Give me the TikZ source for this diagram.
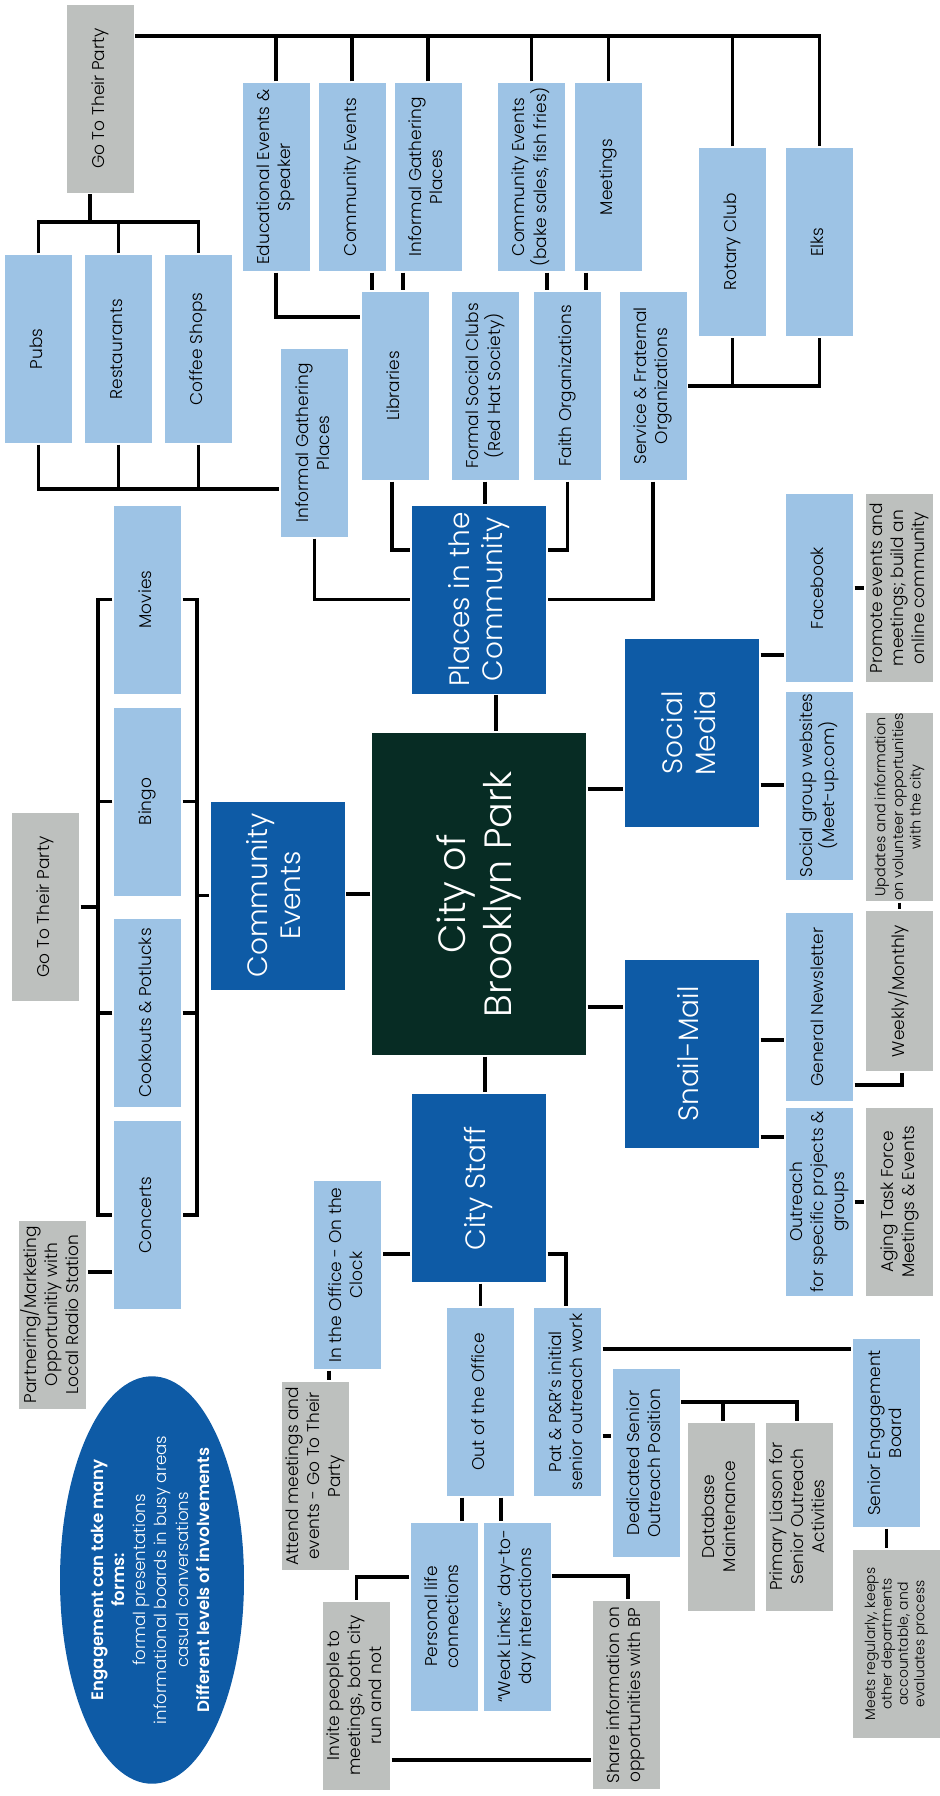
\documentclass[tikz,border=0pt]{standalone}
\usepackage{graphicx}
\usepackage{fontspec}
\setmainfont{Poppins}[UprightFont=* Light, BoldFont=* SemiBold]
\usepackage{tikz}
\usetikzlibrary{calc,positioning,shapes.geometric}

\definecolor{lblue}{RGB}{157,195,229}
\definecolor{greybox}{RGB}{189,192,190}
\definecolor{dblue}{RGB}{14,91,166}
\definecolor{hubgreen}{RGB}{7,44,36}

\newcommand{\vt}[1]{\rotatebox{90}{\begin{tabular}{@{}c@{}}#1\end{tabular}}}

\begin{document}
\begin{tikzpicture}[x=0.5pt, y=-0.5pt,
      line width=1.6pt,
      lbox/.style={fill=lblue, inner sep=0pt, minimum width=33.5pt, minimum height=94pt,
                   font=\fontsize{8.5}{10.5}\selectfont},
      gbox/.style={lbox, fill=greybox},
      dbox/.style={fill=dblue, text=white, inner sep=0pt, minimum width=67pt, minimum height=94pt,
                   font=\fontsize{14}{16.5}\selectfont},
      hub/.style={fill=hubgreen, text=white, inner sep=0pt, minimum width=107pt, minimum height=161pt,
                  font=\fontsize{19}{23}\selectfont}]
    \useasboundingbox (0,0) rectangle (940,1796);

    % top: places in the community
    \node[gbox] (gtp1) at (100,98.5) {\vt{Go To Their Party}};
    \node[lbox] (pubs) at (38.5,349) {\vt{Pubs}};
    \node[lbox] (rest) at (118.5,349) {\vt{Restaurants}};
    \node[lbox] (coffee) at (198.5,349) {\vt{Coffee Shops}};
    \node[lbox] (edu) at (276,177) {\vt{Educational Events \&\\Speaker}};
    \node[lbox] (comev1) at (352,177) {\vt{Community Events}};
    \node[lbox] (infgath1) at (428,177) {\vt{Informal Gathering\\Places}};
    \node[lbox] (bake) at (531.5,177) {\vt{Community Events\\(bake sales, fish fries)}};
    \node[lbox] (meet) at (608.5,177) {\vt{Meetings}};
    \node[lbox] (rotary) at (732.5,242) {\vt{Rotary Club}};
    \node[lbox] (elks) at (819.5,242) {\vt{Elks}};
    \node[lbox] (infgath2) at (314.5,443) {\vt{Informal Gathering\\Places}};
    \node[lbox] (libr) at (395,386) {\vt{Libraries}};
    \node[lbox] (formal) at (485,386) {\vt{Formal Social Clubs\\(Red Hat Society)}};
    \node[lbox] (faith) at (567.5,386) {\vt{Faith Organizations}};
    \node[lbox] (service) at (653,386) {\vt{Service \& Fraternal\\Organizations}};
    \node[dbox] (places) at (479,599.5) {\vt{Places in the\\Community}};

    % centre
    \node[hub] (city) at (479,894) {\vt{City of\\Brooklyn Park}};

    % social media and snail-mail
    \node[dbox] (social) at (692,733) {\vt{Social\\Media}};
    \node[lbox] (facebook) at (819.5,588) {\vt{Facebook}};
    \node[gbox] (promote) at (899.5,588) {\vt{Promote events and\\meetings; build an\\online community}};
    \node[lbox] (socweb) at (819.5,785.5) {\vt{Social group websites\\(Meet-up.com)}};
    \node[gbox, font=\fontsize{7.2}{8.8}\selectfont] (updates) at (899.5,807)
        {\vt{Updates and information\\on volunteer opportunities\\with the city}};
    \node[gbox, minimum height=80pt] (weekly) at (899.5,991) {\vt{Weekly/Monthly}};
    \node[dbox] (snail) at (692,1054) {\vt{Snail-Mail}};
    \node[lbox] (newsl) at (819.5,1007) {\vt{General Newsletter}};
    \node[lbox] (outreach) at (819.5,1202) {\vt{Outreach\\for specific projects \&\\groups}};
    \node[gbox] (aging) at (899.5,1202) {\vt{Aging Task Force\\Meetings \& Events}};

    % community events
    \node[dbox] (comev2) at (277.5,895.5) {\vt{Community\\Events}};
    \node[lbox] (movies) at (147.5,599.5) {\vt{Movies}};
    \node[lbox] (bingo) at (147.5,801.5) {\vt{Bingo}};
    \node[lbox] (cookouts) at (147.5,1013) {\vt{Cookouts \& Potlucks}};
    \node[lbox] (concerts) at (147.5,1215) {\vt{Concerts}};
    \node[gbox] (gtp2) at (45.5,907) {\vt{Go To Their Party}};
    \node[gbox] (partner) at (52.5,1314.5) {\vt{Partnering/Marketing\\Opportunitiy with\\Local Radio Station}};

    % city staff
    \node[dbox] (staff) at (479,1188) {\vt{City Staff}};
    \node[lbox] (inoffice) at (347.5,1275) {\vt{In the Office - On the\\Clock}};
    \node[gbox] (attend) at (315,1476) {\vt{Attend meetings and\\events - Go To Their\\Party}};
    \node[lbox] (outoffice) at (480.5,1402) {\vt{Out of the Office}};
    \node[lbox] (pat) at (567.5,1402) {\vt{Pat \& P\&R's initial\\senior outreach work}};
    \node[lbox] (seb) at (886.5,1433) {\vt{Senior Engagement\\Board}};
    \node[lbox] (dedic) at (646,1463) {\vt{Dedicated Senior\\Outreach Position}};
    \node[gbox] (dbm) at (721,1516.5) {\vt{Database\\Maintenance}};
    \node[gbox] (liason) at (799,1516.5) {\vt{Primary Liason for\\Senior Outreach\\Activities}};
    \node[gbox, minimum width=43.5pt, font=\fontsize{7}{8.2}\selectfont] (meets) at (896.5,1644)
        {\vt{Meets regularly, keeps\\other departments\\accountable, and\\evaluates process}};
    \node[lbox] (personal) at (444,1616.5) {\vt{Personal life\\connections}};
    \node[lbox] (weak) at (517,1616.5) {\vt{“Weak Links” day-to-\\day interactions}};
    \node[gbox] (share) at (626,1695) {\vt{Share information on\\opportunities with BP}};
    \node[gbox] (invite) at (356.5,1695.5) {\vt{Invite people to\\meetings, both city\\run and not}};

    % note
    \node[ellipse, fill=dblue, text=white, inner sep=0pt, minimum width=92pt, minimum height=182.5pt,
          font=\fontsize{8.3}{10.6}\selectfont] (note) at (152,1580)
        {\vt{\textbf{Engagement can take many}\\\textbf{forms:}\\formal presentations\\informational boards in busy areas\\casual conversations\\\textbf{Different levels of involvements}}};

    % connectors, top
    \coordinate (topbus) at (0,36);
    \draw (gtp1.east |- topbus) -| (elks.north);
    \foreach \n in {edu,comev1,infgath1,bake,meet,rotary}
      \draw (\n.north) -- (\n.north |- topbus);
    \coordinate (pubbus) at (0,222);
    \draw ([xshift=-5pt]gtp1.south) -- ([xshift=-5pt]gtp1.south |- pubbus);
    \draw (pubs.north) |- (pubbus -| coffee.north) -- (coffee.north);
    \draw (rest.north) -- (rest.north |- pubbus);
    \coordinate (pubbus2) at (0,489);
    \draw (pubs.south) |- (infgath2.west |- pubbus2);
    \draw (rest.south) -- (rest.south |- pubbus2);
    \draw (coffee.south) -- (coffee.south |- pubbus2);
    \draw (edu.south) |- (libr.west |- 0,317);
    \draw ([xshift=10pt]comev1.south) -- ([xshift=10pt]comev1.south |- libr.north);
    \draw ([xshift=-12.5pt]infgath1.south) -- ([xshift=-12.5pt]infgath1.south |- libr.north);
    \draw ([xshift=7.75pt]bake.south) -- ([xshift=7.75pt]bake.south |- faith.north);
    \draw ([xshift=-11.25pt]meet.south) -- ([xshift=-11.25pt]meet.south |- faith.north);
    \draw (service.east) -| (rotary.south);
    \draw (service.east) -| (elks.south);
    \draw ([xshift=-1.5pt]libr.south) |- (places.west |- 0,550);
    \draw (infgath2.south) |- (places.west);
    \draw (formal.south) -- (formal.south |- places.north);
    \draw (faith.south) |- (places.east |- 0,550);
    \draw (service.south) |- (places.east);
    \draw ([xshift=8.5pt]places.south) -- ([xshift=8.5pt]places.south |- city.north);

    % connectors, right
    \draw (city.east |- 0,789) -- (social.west |- 0,789);
    \draw (city.east |- 0,1007) -- (snail.west |- 0,1007);
    \draw (social.east |- 0,655) -- (facebook.west |- 0,655);
    \draw (social.east |- 0,785) -- (socweb.west |- 0,785);
    \draw (facebook.east) -- (promote.west);
    \draw (updates.south) -- (weekly.north);
    \draw (newsl.east |- 0,1085) -| ([xshift=1.25pt]weekly.south);
    \draw (snail.east |- 0,1040) -- (newsl.west |- 0,1040);
    \draw (snail.east |- 0,1137) -- (outreach.west |- 0,1137);
    \draw (outreach.east) -- (aging.west);

    % connectors, left
    \draw (city.west) -- (city.west -| comev2.east);
    \coordinate (lbr) at (98,0);
    \coordinate (rbr) at (197,0);
    \draw (movies.west) -| (lbr |- concerts.west) -- (concerts.west);
    \draw (movies.east) -| (rbr |- concerts.east) -- (concerts.east);
    \foreach \n in {bingo,cookouts} {
      \draw (\n.west) -- (\n.west -| lbr);
      \draw (\n.east) -- (\n.east -| rbr);
    }
    \draw (gtp2.east) -- (gtp2.east -| lbr);
    \draw (comev2.west) -- (comev2.west -| rbr);
    \draw (partner.east |- 0,1272) -- (concerts.west |- 0,1272);

    % connectors, bottom
    \draw ([xshift=3pt]city.south) -- ([xshift=3pt]city.south |- staff.north);
    \draw (staff.west |- 0,1254) -- (inoffice.east |- 0,1254);
    \draw (staff.east |- 0,1254) -| ([xshift=-0.75pt]pat.north);
    \draw (outoffice.north |- staff.south) -- (outoffice.north);
    \draw ([xshift=-9.25pt]inoffice.south) -- ([xshift=-9.25pt]inoffice.south |- attend.north);
    \draw ([xshift=-9.25pt]outoffice.south) -- ([xshift=-9.25pt]outoffice.south |- personal.north);
    \draw ([xshift=10.25pt]outoffice.south) -- ([xshift=10.25pt]outoffice.south |- weak.north);
    \draw (personal.west |- 0,1577) -| (invite.north);
    \draw (weak.east |- 0,1576) -| ([xshift=1pt]share.north);
    \draw (invite.east |- 0,1760) -- (share.west |- 0,1760);
    \draw (pat.east |- 0,1349) -- (seb.west |- 0,1349);
    \draw (pat.east |- 0,1436) -- (dedic.west |- 0,1436);
    \draw (dedic.east |- 0,1402) -| ([xshift=-1pt]liason.north);
    \draw ([xshift=1pt]dbm.north) -- ([xshift=1pt]dbm.north |- 0,1402);
    \draw (seb.south) -- (seb.south |- meets.north);
\end{tikzpicture}
\end{document}
